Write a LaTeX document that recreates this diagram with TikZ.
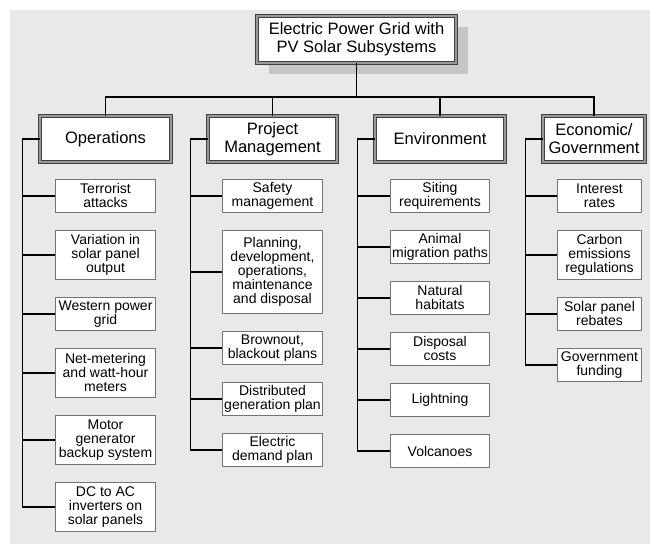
\documentclass[tikz,border=0pt]{standalone}
\usepackage{fontspec}
\setmainfont{Liberation Sans}
\usetikzlibrary{positioning,shadows}
\newlength\px
\setlength\px{0.75pt}
\definecolor{panel}{HTML}{E9E9E9}
\definecolor{shade}{HTML}{C6C6C6}

\begin{document}
\begin{tikzpicture}[x=0.75pt,y=-0.75pt,
    head/.style={draw=black!75,line width=0.6pt,double=black!40,double distance=1.5pt,
    fill=white,align=center,inner sep=0pt,outer sep=0pt,
    font=\fontsize{12.4}{13.5}\selectfont,minimum height=46.5\px},
    leaf/.style={draw=black!55,line width=0.8pt,fill=white,align=center,inner sep=0pt,
    font=\fontsize{10.5}{10.5}\selectfont,minimum width=100\px,minimum height=#1},
    leaf/.default=33\px,
    link/.style={line width=1.1pt}]

    \useasboundingbox (0,0) rectangle (650,544);
    \fill[panel] (10,10) rectangle (650,544);

    \node[head,minimum width=199\px,minimum height=47\px,
      drop shadow={shadow xshift=9pt,shadow yshift=-8.25pt,fill=shade,opacity=1}]
      (top) at (356.5,39.5) {Electric Power Grid with\\PV Solar Subsystems};

    \node[head,minimum width=131.5\px] (op) at (105.5,139) {Operations};
    \node[head,minimum width=129.5\px] (pm) at (272.5,139) {Project\\Management};
    \node[head,minimum width=130.5\px] (env) at (440,139) {Environment};
    \node[head,minimum width=102.5\px] (eco) at (594,139) {Economic/\\Government};

    % operations
    \node[leaf,below=16.5\px of op] (op1) {Terrorist\\attacks};
    \node[leaf=49\px,below=17\px of op1] (op2) {Variation in\\solar panel\\output};
    \node[leaf,below=17\px of op2] (op3) {Western power\\grid};
    \node[leaf=49\px,below=17\px of op3] (op4) {Net-metering\\and watt-hour\\meters};
    \node[leaf=49\px,below=17\px of op4] (op5) {Motor\\generator\\backup system};
    \node[leaf=49\px,below=17\px of op5] (op6) {DC to AC\\inverters on\\solar panels};

    % project management
    \node[leaf,below=16.5\px of pm] (pm1) {Safety\\management};
    \node[leaf=83\px,below=17\px of pm1] (pm2) {Planning,\\development,\\operations,\\maintenance\\and disposal};
    \node[leaf,below=17\px of pm2] (pm3) {Brownout,\\blackout plans};
    \node[leaf,below=17\px of pm3] (pm4) {Distributed\\generation plan};
    \node[leaf,below=17\px of pm4] (pm5) {Electric\\demand plan};

    % environment
    \node[leaf,minimum width=99\px,below=16.5\px of env] (env1) {Siting\\requirements};
    \node[leaf,minimum width=99\px,below=17\px of env1] (env2) {Animal\\migration paths};
    \node[leaf,minimum width=99\px,below=17\px of env2] (env3) {Natural\\habitats};
    \node[leaf,minimum width=99\px,below=17\px of env3] (env4) {Disposal\\costs};
    \node[leaf,minimum width=99\px,below=17\px of env4] (env5) {Lightning};
    \node[leaf,minimum width=99\px,below=17\px of env5] (env6) {Volcanoes};

    % economic
    \node[leaf,minimum width=84\px,below=16.5\px of eco,xshift=5.5\px] (eco1) {Interest\\rates};
    \node[leaf=49\px,minimum width=84\px,below=17\px of eco1] (eco2) {Carbon\\emissions\\regulations};
    \node[leaf,minimum width=84\px,below=17\px of eco2] (eco3) {Solar panel\\rebates};
    \node[leaf,minimum width=84\px,below=17\px of eco3] (eco4) {Government\\funding};

    % tree lines
    \coordinate (bus) at (0,97);
    \draw[link] (top.south) -- (top.south |- bus);
    \draw[link] (op.north) |- (eco.north |- bus) -- (eco.north);
    \foreach \n in {pm,env}
      \draw[link] (\n.north) -- (\n.north |- bus);

    \foreach \n/\k in {op/6,pm/5,env/6,eco/4}
    {
      \draw[link] (\n.west) -- ++(-17\px,0) coordinate (\n x) |- (\n\k.west);
      \foreach \i in {1,...,\k}
        \draw[link] (\n\i.west) -- (\n\i.west -| \n x);
    }
\end{tikzpicture}
\end{document}
